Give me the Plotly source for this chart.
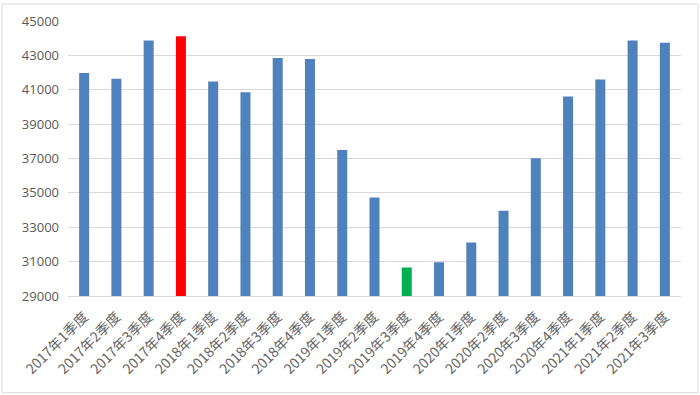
import plotly.graph_objects as go

categories = ["2017年1季度", "2017年2季度", "2017年3季度", "2017年4季度",
              "2018年1季度", "2018年2季度", "2018年3季度", "2018年4季度",
              "2019年1季度", "2019年2季度", "2019年3季度", "2019年4季度",
              "2020年1季度", "2020年2季度", "2020年3季度", "2020年4季度",
              "2021年1季度", "2021年2季度", "2021年3季度"]
values = [41980, 41640, 43860, 44120,
          41480, 40860, 42850, 42790,
          37490, 34730, 30660, 30970,
          32110, 33960, 37020,
          40610, 41600, 43870, 43740]
bar_colors = ["#4F81BD"] * len(categories)
bar_colors[3] = "#FF0000"
bar_colors[10] = "#00B050"

y_ticks = [29000, 31000, 33000, 35000, 37000, 39000, 41000, 43000, 45000]
y_tick_labels = [str(v) for v in y_ticks]

fig = go.Figure(go.Bar(
    x=categories, y=values, marker=dict(color=bar_colors, line=dict(width=0)),
    width=0.31,
))

fig.update_layout(
    width=700, height=395,
    margin=dict(l=68, r=19, t=19, b=99),
    paper_bgcolor="white", plot_bgcolor="white",
    showlegend=False,
    font=dict(family="Noto Sans CJK SC, Noto Sans, sans-serif", color="#595959"),
    xaxis=dict(tickangle=-45, tickfont=dict(size=14, color="#666666"),
               showline=True, linecolor="#D9D9D9", linewidth=1,
               ticks="", showgrid=False, ticklabelstandoff=6),
    yaxis=dict(range=[29000, 45000], tickvals=y_ticks, ticktext=y_tick_labels,
               tickfont=dict(size=13, family="Open Sans, sans-serif", color="#595959"),
               showgrid=True, gridcolor="#D9D9D9", gridwidth=1,
               zeroline=False, showline=False, ticks="", ticklabelstandoff=8),
    shapes=[dict(type="rect", xref="paper", yref="paper",
                 x0=-66/613, x1=1 + 17/613, y0=-97/276, y1=1 + 17/276,
                 line=dict(color="#D9D9D9", width=1), layer="below")],
)

fig.write_html("out.html")
